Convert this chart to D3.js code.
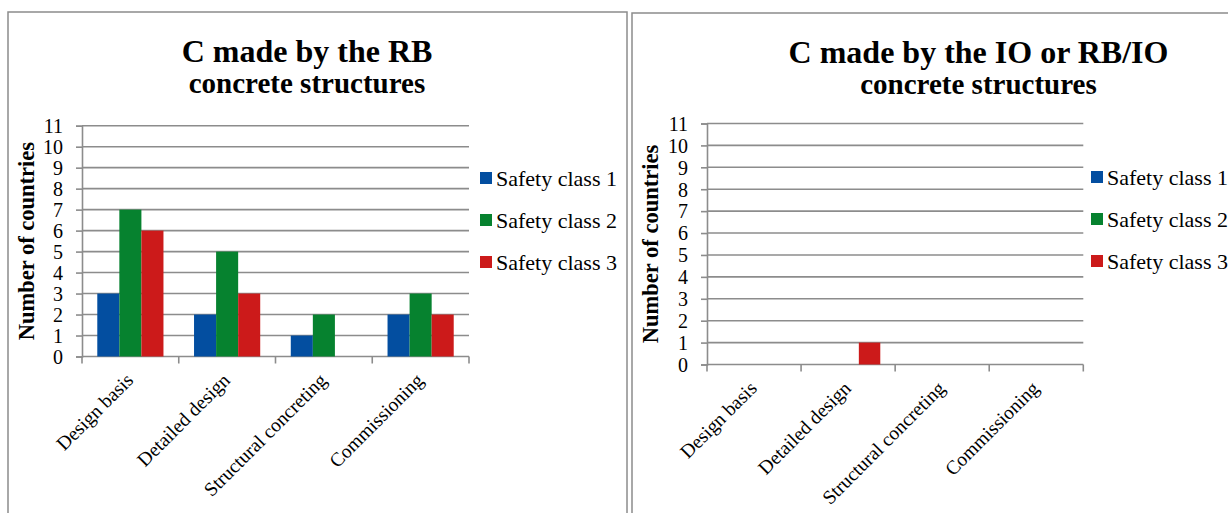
<!DOCTYPE html>
<html>
<head>
<meta charset="utf-8">
<script src="https://cdn.jsdelivr.net/npm/d3@7"></script>
<style>
  html, body { margin: 0; padding: 0; background: #fff; }
  svg { display: block; }
  text { font-family: "Liberation Serif", "Times New Roman", serif; fill: #000; }
</style>
</head>
<body>
<svg id="chart" width="1228" height="513"></svg>
<script>
// ---- Data ----
const categories = ["Design basis", "Detailed design", "Structural concreting", "Commissioning"];
const seriesNames = ["Safety class 1", "Safety class 2", "Safety class 3"];
const seriesColors = ["#034EA0", "#06822F", "#CC1A1A"];
const yTicks = [0, 1, 2, 3, 4, 5, 6, 7, 8, 9, 10, 11];

// Left chart: C made by the RB
const rbClass1 = [3, 2, 1, 2];
const rbClass2 = [7, 5, 2, 3];
const rbClass3 = [6, 3, 0, 2];

// Right chart: C made by the IO or RB/IO
const ioClass1 = [0, 0, 0, 0];
const ioClass2 = [0, 0, 0, 0];
const ioClass3 = [0, 1, 0, 0];

const titleLeft = "C made by the RB";
const titleRight = "C made by the IO or RB/IO";
const subtitle = "concrete structures";
const yTitle = "Number of countries";

const svg = d3.select("#chart");

function drawPanel(cfg, seriesData) {
  const g = svg.append("g");
  // panel border
  g.append("rect")
    .attr("x", cfg.box[0]).attr("y", cfg.box[1])
    .attr("width", cfg.box[2]).attr("height", cfg.box[3])
    .attr("fill", "none").attr("stroke", "#8c8c8c").attr("stroke-width", 1.5);

  // titles
  g.append("text").attr("x", cfg.titleX).attr("y", cfg.titleY)
    .attr("text-anchor", "middle").attr("font-weight", "bold").attr("font-size", 32)
    .text(cfg.title);
  g.append("text").attr("x", cfg.titleX).attr("y", cfg.titleY + 31)
    .attr("text-anchor", "middle").attr("font-weight", "bold").attr("font-size", 29)
    .text(subtitle);

  const x0 = d3.scaleBand().domain(categories).range([cfg.left, cfg.right]).padding(0);
  const y = d3.scaleLinear().domain([0, 11]).range([cfg.bottom, cfg.top]);
  const barW = x0.bandwidth() * 0.228;
  const x1 = d3.scaleBand().domain(seriesNames).range([-1.5 * barW, 1.5 * barW]).padding(0);

  // gridlines
  g.append("g").selectAll("line").data(yTicks.filter(d => d > 0)).join("line")
    .attr("x1", cfg.left).attr("x2", cfg.right)
    .attr("y1", d => y(d)).attr("y2", d => y(d))
    .attr("stroke", "#8c8c8c").attr("stroke-width", 1.6);

  // y axis
  const yAxis = g.append("g").attr("transform", `translate(${cfg.left},0)`)
    .call(d3.axisLeft(y).tickValues(yTicks).tickSize(6).tickPadding(13).tickFormat(d3.format("d")));
  yAxis.attr("font-family", null).attr("font-size", null);
  yAxis.select(".domain").attr("stroke", "#8c8c8c").attr("stroke-width", 1.6);
  yAxis.selectAll(".tick line").attr("stroke", "#8c8c8c").attr("stroke-width", 1.6);
  yAxis.selectAll(".tick text").attr("font-size", 20)
    .style("font-family", "'Liberation Serif', serif").attr("fill", "#000").attr("dy", "0.34em");

  // x axis line + ticks at band boundaries
  g.append("line").attr("x1", cfg.left).attr("x2", cfg.right)
    .attr("y1", cfg.bottom).attr("y2", cfg.bottom)
    .attr("stroke", "#8c8c8c").attr("stroke-width", 1.6);
  const bounds = categories.map(c => x0(c)).concat([cfg.right]);
  g.append("g").selectAll("line").data(bounds).join("line")
    .attr("x1", d => d).attr("x2", d => d)
    .attr("y1", cfg.bottom).attr("y2", cfg.bottom + 7)
    .attr("stroke", "#8c8c8c").attr("stroke-width", 1.6);

  // bars
  seriesNames.forEach((s, si) => {
    g.append("g").selectAll("rect").data(seriesData[si]).join("rect")
      .attr("x", (d, i) => x0(categories[i]) + x0.bandwidth() / 2 + x1(s))
      .attr("width", x1.bandwidth())
      .attr("y", d => y(d))
      .attr("height", d => y(0) - y(d))
      .attr("fill", seriesColors[si]);
  });

  // category labels
  g.append("g").selectAll("text").data(categories).join("text")
    .attr("transform", d => `translate(${x0(d) + x0.bandwidth() / 2 + 4},${cfg.bottom + 25}) rotate(-45)`)
    .attr("text-anchor", "end").attr("font-size", 19.5)
    .text(d => d);

  // y title
  g.append("text")
    .attr("transform", `translate(${cfg.yTitleX},${(cfg.top + cfg.bottom) / 2}) rotate(-90)`)
    .attr("text-anchor", "middle").attr("font-weight", "bold").attr("font-size", 22.5)
    .attr("dy", "0.35em")
    .text(yTitle);

  // legend
  const lg = g.append("g");
  seriesNames.forEach((s, si) => {
    const cy = cfg.legendY + si * 42;
    lg.append("rect").attr("x", cfg.legendX).attr("y", cy - 6)
      .attr("width", 12).attr("height", 12).attr("fill", seriesColors[si]);
    lg.append("text").attr("x", cfg.legendX + 16).attr("y", cy).attr("dy", "0.35em")
      .attr("font-size", 22).text(s);
  });
}

drawPanel({
  box: [8, 12, 619, 520],
  title: titleLeft, titleX: 307, titleY: 62,
  left: 82, right: 469, top: 125.7, bottom: 356.5,
  yTitleX: 26, legendX: 480, legendY: 178
}, [rbClass1, rbClass2, rbClass3]);

drawPanel({
  box: [632, 13, 620, 520],
  title: titleRight, titleX: 978.5, titleY: 63,
  left: 707, right: 1083.3, top: 123.5, bottom: 364.5,
  yTitleX: 650, legendX: 1091, legendY: 177
}, [ioClass1, ioClass2, ioClass3]);
</script>
</body>
</html>
